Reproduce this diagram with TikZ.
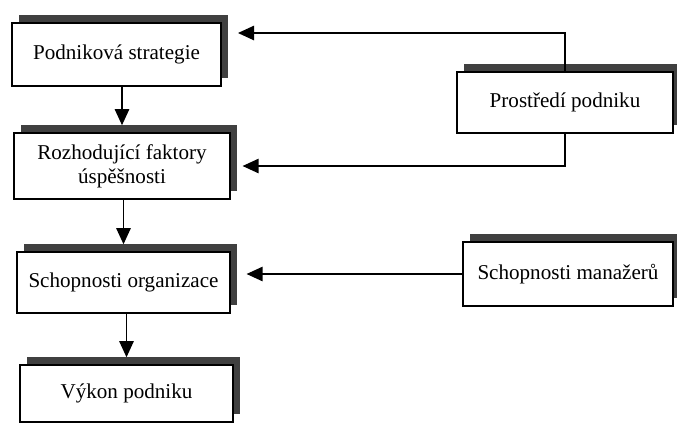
\documentclass[tikz,border=0pt]{standalone}
\usepackage{fontspec}
\setmainfont{Liberation Serif}
\usetikzlibrary{arrows.meta,shadows}

\tikzstyle{box}=[draw=black,fill=white,line width=0.8pt,inner sep=2pt,align=center,font=\fontsize{15}{17}\selectfont,drop shadow={shadow xshift=0.18cm,shadow yshift=0.2cm,opacity=1,fill=black!75}]
\tikzstyle{arr}=[line width=0.9pt,-{Triangle[length=0.4cm,width=0.36cm]}]

\begin{document}
\begin{tikzpicture}[x=0.025cm,y=-0.025cm]
		\useasboundingbox (0,0) rectangle (677,424);
		\node (s) at (116.5,54.5) [box,minimum width=5.225cm,minimum height=1.575cm] {Podniková strategie};
		\node (f) at (122,166) [box,minimum width=5.4cm,minimum height=1.65cm] {Rozhodující faktory\\úspěšnosti};
		\node (o) at (123.5,282.5) [box,minimum width=5.325cm,minimum height=1.525cm] {Schopnosti organizace};
		\node (v) at (126.5,393.5) [box,minimum width=5.325cm,minimum height=1.425cm] {Výkon podniku};
		\node (p) at (565,102.5) [box,minimum width=5.4cm,minimum height=1.525cm] {Prostředí podniku};
		\node (m) at (568,274) [box,minimum width=5.25cm,minimum height=1.6cm] {Schopnosti manažerů};
		\coordinate (t) at (238,33);
		
		\draw[arr,shorten >=0.18cm] (s.south -| f.north) -- (f.north);
		\draw[arr,shorten >=0.18cm] (f.south -| o.north) -- (o.north);
		\draw[arr,shorten >=0.18cm] (o.south -| v.north) -- (v.north);
		
		\draw[arr] (p.north) |- (t);
		\draw[arr,shorten >=0.3cm] (p.south) |- (f.east);
		\draw[arr,shorten >=0.4cm] (m.west) -- (o.east |- m.west);
	\end{tikzpicture}
\end{document}
